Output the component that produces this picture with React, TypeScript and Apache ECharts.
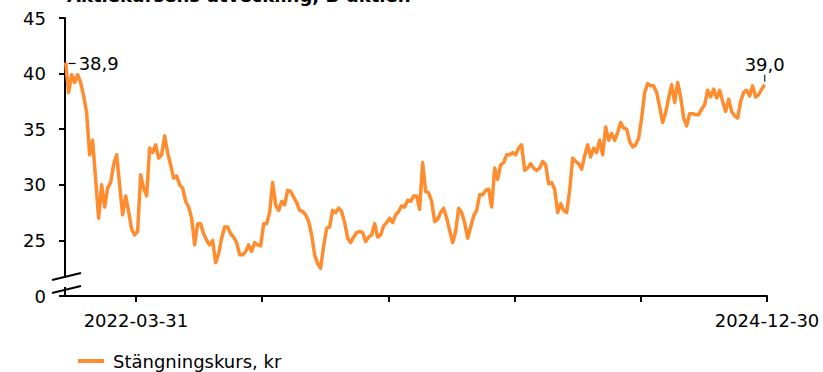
import React, { useEffect, useRef } from "react";
import * as echarts from "echarts";

const TITLE = "Aktiekursens utveckling, B-aktien";
const SERIES_NAME = "Stängningskurs, kr";

// x axis (dates)
const AXIS_START = "2021-12-08";
const AXIS_END = "2024-12-30";
const FIRST_SAMPLE = "2021-12-09";
const SAMPLE_STEP_DAYS = 4.778;
const X_TICK_DATES = ["2022-03-31", "2022-10-18", "2023-05-07", "2023-11-24", "2024-06-12", "2024-12-30"];
const X_LABEL_DATES = ["2022-03-31", "2024-12-30"];

// y axis (with break: 20 shown as 0)
const Y_MIN = 20;
const Y_MAX = 45;
const Y_STEP = 5;
const Y_BREAK_LABEL = "0";

// end-point labels
const START_LABEL = "38,9";
const END_LABEL = "39,0";

// closing prices, sampled about every 4.8 days
const PRICES = [
  41.0, 38.3, 39.9, 39.2, 39.9, 39.2, 38.0, 36.5, 32.7, 34.0,
  30.5, 27.0, 30.0, 28.0, 29.7, 30.2, 31.8, 32.7, 30.0, 27.3,
  29.0, 27.6, 26.0, 25.5, 25.8, 30.9, 29.7, 29.0, 33.3, 32.9,
  33.6, 32.4, 32.7, 34.4, 32.9, 31.8, 30.6, 30.8, 30.0, 29.7,
  28.5, 28.0, 27.0, 24.6, 26.5, 26.5, 25.6, 25.0, 24.6, 25.0,
  23.0, 23.8, 25.2, 26.2, 26.2, 25.6, 25.3, 24.8, 23.7, 23.7,
  24.0, 24.6, 24.0, 24.8, 24.6, 24.5, 26.5, 26.5, 27.5, 30.2,
  28.2, 27.7, 28.5, 28.2, 29.5, 29.4, 28.9, 28.4, 27.7, 27.6,
  27.3, 26.7, 25.5, 23.7, 22.9, 22.5, 24.5, 26.1, 26.2, 27.7,
  27.5, 27.9, 27.6, 26.6, 25.2, 24.8, 25.3, 25.7, 25.8, 25.7,
  24.9, 25.3, 25.5, 26.5, 25.3, 25.5, 26.3, 26.6, 27.0, 26.6,
  27.3, 27.6, 28.1, 28.0, 28.6, 28.5, 29.0, 29.0, 27.8, 32.0,
  29.4, 29.3, 28.5, 26.7, 26.9, 27.5, 27.9, 27.0, 25.9, 24.8,
  25.8, 27.9, 27.5, 26.6, 25.2, 26.2, 27.2, 27.7, 29.1, 29.1,
  29.5, 29.6, 28.0, 31.5, 30.5, 31.8, 32.0, 32.7, 32.7, 32.9,
  32.7, 33.3, 33.6, 31.3, 31.5, 31.9, 31.5, 31.3, 31.5, 32.1,
  31.8, 30.1, 30.2, 29.6, 27.5, 28.3, 27.7, 27.5, 29.5, 32.4,
  32.1, 31.9, 31.4, 32.6, 33.6, 32.5, 33.3, 32.9, 34.0, 32.7,
  35.2, 34.0, 34.6, 34.0, 34.7, 35.6, 35.1, 35.0, 33.9, 33.4,
  33.6, 34.2, 36.0, 38.3, 39.1, 38.9, 38.9, 38.3, 37.0, 35.6,
  36.5, 37.8, 39.0, 37.4, 39.2, 37.9, 36.0, 35.3, 36.4, 36.4,
  36.3, 36.3, 36.8, 37.2, 38.5, 37.9, 38.6, 37.8, 38.5, 37.5,
  36.6, 37.7, 36.6, 36.2, 36.0, 37.5, 38.3, 38.5, 38.0, 38.9,
  37.9, 38.1, 38.6, 39.0,
];

const DAY = 86400000;
const toMs = (s: string) => {
  const [y, m, d] = s.split("-").map(Number);
  return Date.UTC(y, m - 1, d);
};
const dayIndex = (s: string) => (toMs(s) - toMs(AXIS_START)) / DAY;

const FONT = "DejaVu Sans";
const LINE_COLOR = "#ff8c2e";

export default function App() {
  const ref = useRef<HTMLDivElement>(null);

  useEffect(() => {
    if (!ref.current) return;
    const chart = echarts.init(ref.current, null, { renderer: "svg" });
    const first = dayIndex(FIRST_SAMPLE);
    const data = PRICES.map((v, i) => [first + i * SAMPLE_STEP_DAYS, v]);
    const labelDays = X_LABEL_DATES.map(dayIndex);
    const tickDays = X_TICK_DATES.map(dayIndex);

    chart.setOption({
      animation: false,
      title: {
        text: TITLE,
        left: 62,
        top: -19,
        textStyle: { fontFamily: FONT, fontSize: 18, fontWeight: "bold", color: "#000" },
      },
      legend: {
        left: 73,
        top: 347,
        icon: "rect",
        itemWidth: 26,
        itemHeight: 4,
        textStyle: { fontFamily: FONT, fontSize: 18, color: "#000", padding: [0, 0, 0, 4] },
        data: [SERIES_NAME],
      },
      grid: { left: 65, top: 18, width: 702, height: 278, containLabel: false },
      xAxis: {
        type: "value",
        min: 0,
        max: dayIndex(AXIS_END),
        splitLine: { show: false },
        axisLine: { show: true, lineStyle: { color: "#000", width: 2 } },
        axisTick: {
          show: true,
          length: 6,
          customValues: tickDays,
          lineStyle: { color: "#000", width: 2 },
        },
        axisLabel: {
          customValues: labelDays,
          margin: 15,
          fontFamily: FONT,
          fontSize: 18,
          color: "#000",
          formatter: (v: number) => {
            const idx = labelDays.findIndex((d) => Math.abs(d - v) < 0.5);
            return idx >= 0 ? X_LABEL_DATES[idx] : "";
          },
        },
      },
      yAxis: {
        type: "value",
        min: Y_MIN,
        max: Y_MAX,
        interval: Y_STEP,
        splitLine: { show: false },
        axisLine: { show: true, lineStyle: { color: "#000", width: 2 } },
        axisTick: { show: true, length: 6, lineStyle: { color: "#000", width: 2 } },
        axisLabel: {
          margin: 19,
          fontFamily: FONT,
          fontSize: 18,
          color: "#000",
          formatter: (v: number) => (v === Y_MIN ? Y_BREAK_LABEL : String(v)),
        },
      },
      series: [
        {
          name: SERIES_NAME,
          type: "line",
          data,
          showSymbol: false,
          symbol: "none",
          color: LINE_COLOR,
          lineStyle: { color: LINE_COLOR, width: 3.5, join: "round" },
        },
      ],
    });

    const p0 = chart.convertToPixel({ gridIndex: 0 }, data[0] as any) as number[];
    const pN = chart.convertToPixel({ gridIndex: 0 }, data[data.length - 1] as any) as number[];
    const textStyle = { fontFamily: FONT, fontSize: 18, fill: "#000" };
    chart.setOption({
      graphic: [
        // axis break
        { type: "rect", shape: { x: 60, y: 278, width: 12, height: 9 }, style: { fill: "#fff" }, z: 100 },
        { type: "line", shape: { x1: 52, y1: 280, x2: 81, y2: 273 }, style: { stroke: "#000", lineWidth: 2 }, z: 101 },
        { type: "line", shape: { x1: 52, y1: 293, x2: 81, y2: 286 }, style: { stroke: "#000", lineWidth: 2 }, z: 101 },
        // start label
        { type: "line", shape: { x1: p0[0] + 3, y1: p0[1] + 1, x2: p0[0] + 10, y2: p0[1] + 1 }, style: { stroke: "#000", lineWidth: 1.2 }, z: 101 },
        { type: "text", x: p0[0] + 13, y: p0[1] + 1, style: { ...textStyle, text: START_LABEL, textAlign: "left", textVerticalAlign: "middle" }, z: 101 },
        // end label
        { type: "line", shape: { x1: pN[0], y1: pN[1] - 10, x2: pN[0], y2: pN[1] - 3 }, style: { stroke: "#444", lineWidth: 1.5 }, z: 101 },
        { type: "text", x: pN[0], y: pN[1] - 11, style: { ...textStyle, text: END_LABEL, textAlign: "center", textVerticalAlign: "bottom" }, z: 101 },
      ],
    });

    return () => chart.dispose();
  }, []);

  return (
    <div
      ref={ref}
      style={{ position: "fixed", left: 0, top: 0, width: 823, height: 372, background: "#fff" }}
    />
  );
}
